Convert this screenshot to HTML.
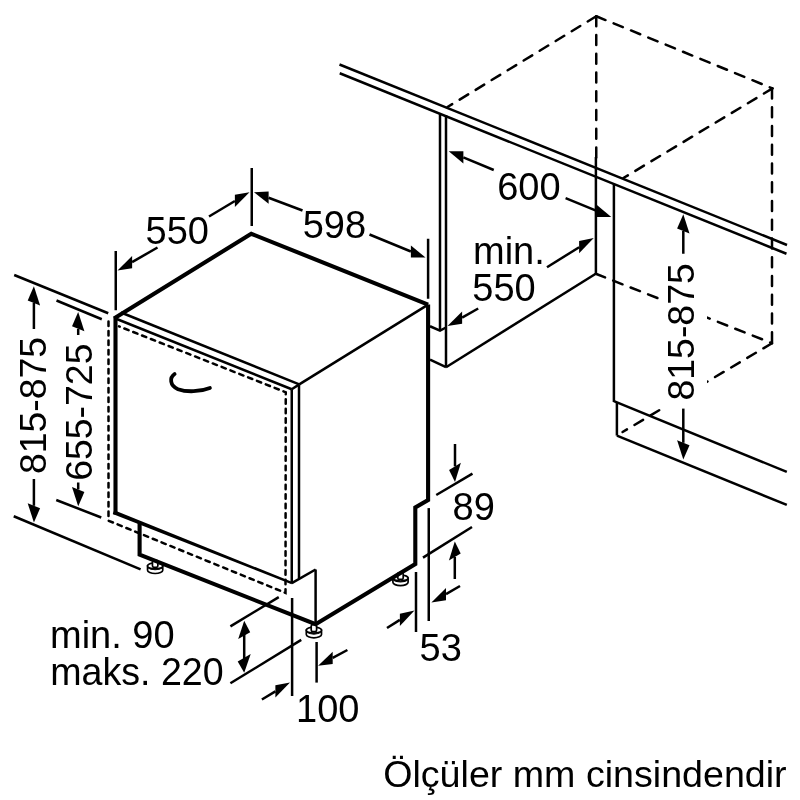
<!DOCTYPE html>
<html><head><meta charset="utf-8"><style>
html,body{margin:0;padding:0;background:#fff;width:800px;height:800px;overflow:hidden}
svg{position:absolute;left:0;top:0;will-change:transform}
text{font-family:"Liberation Sans",sans-serif;font-size:38px;fill:#000;stroke:none}
</style></head><body>
<svg width="800" height="800" viewBox="0 0 800 800" stroke="#000" fill="none" stroke-linecap="butt">
<line x1="339.5" y1="64.5" x2="787" y2="245" stroke-width="2.5"/>
<line x1="339.75" y1="73.25" x2="786.5" y2="253.75" stroke-width="2.5"/>
<g stroke-linecap="round">
<line x1="596.25" y1="16.25" x2="447.5" y2="107" stroke-width="2.5" stroke-dasharray="10 8.75"/>
<line x1="596.25" y1="16.25" x2="596.25" y2="160" stroke-width="2.5" stroke-dasharray="10 8.75"/>
<line x1="596.25" y1="16.25" x2="772.5" y2="88.4" stroke-width="2.5" stroke-dasharray="10 8.75"/>
<line x1="772" y1="88.4" x2="772" y2="343.2" stroke-width="2.5" stroke-dasharray="10 8.75"/>
<line x1="772.5" y1="88.4" x2="623.4" y2="178" stroke-width="2.5" stroke-dasharray="10 8.75"/>
<line x1="595.75" y1="273.75" x2="772" y2="343.2" stroke-width="2.5" stroke-dasharray="10 8.75"/>
<line x1="772" y1="343.2" x2="622.6" y2="432" stroke-width="2.5" stroke-dasharray="10 8.75"/>
</g>
<line x1="440" y1="113.75" x2="440" y2="330.6" stroke-width="2.5"/>
<line x1="446" y1="115" x2="446" y2="367.2" stroke-width="2.5"/>
<polyline points="430,326.25 440,330.6 446,327.5" stroke-width="2.5" fill="none" stroke-linejoin="miter"/>
<line x1="430" y1="359.6" x2="446" y2="367.2" stroke-width="2.5"/>
<line x1="446" y1="367.2" x2="595.75" y2="273.75" stroke-width="2.5"/>
<line x1="595.9" y1="157" x2="595.9" y2="273.75" stroke-width="2.5"/>
<line x1="613.9" y1="183.75" x2="613.9" y2="402" stroke-width="2.5"/>
<line x1="613.9" y1="401.1" x2="786.8" y2="471.9" stroke-width="2.5"/>
<line x1="616.9" y1="403" x2="616.9" y2="435.6" stroke-width="2.5"/>
<line x1="616.9" y1="435.6" x2="786.8" y2="504.9" stroke-width="2.5"/>
<path d="M147.55,565.9 L147.55,570.1999999999999 A7.6,3.3 0 0 0 162.75,570.1999999999999 L162.75,565.9 Z" fill="#fff" stroke-width="1.7"/>
<ellipse cx="155.15" cy="565.9" rx="7.6" ry="3.0" fill="#fff" stroke-width="1.7"/>
<path d="M148.35000000000002,568.1 A7.6,3.0 0 0 0 161.95,568.1" fill="none" stroke-width="1.2"/>
<rect x="152.45000000000002" y="560.4" width="5.4" height="6.9" rx="1.5" fill="#fff" stroke-width="1.7"/>
<path d="M306.29999999999995,630.2 L306.29999999999995,634.5 A7.6,3.3 0 0 0 321.5,634.5 L321.5,630.2 Z" fill="#fff" stroke-width="1.7"/>
<ellipse cx="313.9" cy="630.2" rx="7.6" ry="3.0" fill="#fff" stroke-width="1.7"/>
<path d="M307.09999999999997,632.4000000000001 A7.6,3.0 0 0 0 320.7,632.4000000000001" fill="none" stroke-width="1.2"/>
<rect x="311.2" y="624.7" width="5.4" height="6.9" rx="1.5" fill="#fff" stroke-width="1.7"/>
<path d="M392.9,578 L392.9,582.3 A7.6,3.3 0 0 0 408.1,582.3 L408.1,578 Z" fill="#fff" stroke-width="1.7"/>
<ellipse cx="400.5" cy="578" rx="7.6" ry="3.0" fill="#fff" stroke-width="1.7"/>
<path d="M393.7,580.2 A7.6,3.0 0 0 0 407.3,580.2" fill="none" stroke-width="1.2"/>
<rect x="397.8" y="572.5" width="5.4" height="6.9" rx="1.5" fill="#fff" stroke-width="1.7"/>
<polyline points="114,318.5 251.25,233.75 428.1,304.6" stroke-width="4.1" fill="none" stroke-linejoin="miter"/>
<polyline points="428.1,304.6 428.1,500 415.3,507.5 415.3,564 315.6,624.2 139.6,554.6 139.6,522" stroke-width="4.1" fill="none" stroke-linejoin="miter"/>
<line x1="428.1" y1="304.6" x2="299.25" y2="384.4" stroke-width="2.5"/>
<line x1="115.5" y1="317.5" x2="115.5" y2="514.5" stroke-width="4.1"/>
<polygon points="112.76,514.06 291.58,584.17 292.42,582.03 114.24,510.34" fill="#000" stroke="none"/>
<line x1="121" y1="312.5" x2="299.25" y2="384.4" stroke-width="2.5"/>
<line x1="115.5" y1="318.5" x2="291.75" y2="389.25" stroke-width="2.5"/>
<line x1="291.75" y1="389.25" x2="299.25" y2="384.4" stroke-width="2.5"/>
<line x1="291.75" y1="389.25" x2="291.75" y2="583" stroke-width="2.5"/>
<line x1="299" y1="384.4" x2="299" y2="578.25" stroke-width="2.5"/>
<line x1="291.75" y1="583.1" x2="315.6" y2="569.5" stroke-width="2.5"/>
<line x1="315.6" y1="569.5" x2="315.6" y2="624" stroke-width="2.5"/>
<g stroke-linecap="round">
<polyline points="108.5,321.5 108.5,520.7 285.5,592.9 285.75,392.25 119,326.4" stroke-width="2.5" fill="none" stroke-linejoin="miter" stroke-dasharray="4.5 5"/>
</g>
<path d="M174.6,374 C169.5,377.5 169.5,385.5 178,389.2 C187,392.4 200,391.8 209.9,387.9" fill="none" stroke-width="3.8" stroke-linecap="round"/>
<line x1="251.75" y1="168" x2="251.75" y2="226" stroke-width="2.5"/>
<line x1="115.75" y1="251" x2="115.75" y2="310.25" stroke-width="2.5"/>
<line x1="428.1" y1="238.75" x2="428.1" y2="298.75" stroke-width="2.5"/>
<line x1="14.2" y1="275" x2="108.25" y2="313.25" stroke-width="2.5"/>
<line x1="56.5" y1="300.5" x2="101.8" y2="319.25" stroke-width="2.5"/>
<line x1="13.75" y1="516.25" x2="140.6" y2="569.4" stroke-width="2.5"/>
<line x1="56.25" y1="500" x2="101.25" y2="517.5" stroke-width="2.5"/>
<line x1="436.25" y1="495" x2="472.5" y2="473.7" stroke-width="2.5"/>
<line x1="423" y1="557.6" x2="472" y2="527" stroke-width="2.5"/>
<line x1="428.75" y1="508.1" x2="428.75" y2="621" stroke-width="2.5"/>
<line x1="416" y1="572" x2="416" y2="632" stroke-width="2.5"/>
<line x1="230.4" y1="626.4" x2="278.75" y2="597.1" stroke-width="2.5"/>
<line x1="230.4" y1="683.3" x2="301.25" y2="639.9" stroke-width="2.5"/>
<line x1="292.1" y1="598" x2="292.1" y2="696" stroke-width="2.5"/>
<line x1="316.6" y1="642" x2="316.6" y2="682.6" stroke-width="2.5"/>
<polygon points="117.50,270.50 132.10,256.00 132.10,268.21" fill="#000" stroke="none"/>
<line x1="157.5" y1="247.5" x2="132.1" y2="262.11" stroke-width="2.5"/>
<polygon points="249.50,192.20 234.90,194.86 234.90,207.06" fill="#000" stroke="none"/>
<line x1="209" y1="216.5" x2="234.9" y2="200.96" stroke-width="2.5"/>
<polygon points="254.00,192.20 268.60,191.61 268.60,203.81" fill="#000" stroke="none"/>
<line x1="302.5" y1="210.5" x2="268.6" y2="197.71" stroke-width="2.5"/>
<polygon points="425.50,257.50 410.90,245.40 410.90,257.60" fill="#000" stroke="none"/>
<line x1="369.5" y1="234.5" x2="410.9" y2="251.5" stroke-width="2.5"/>
<polygon points="448.75,151.25 463.35,151.23 463.35,163.43" fill="#000" stroke="none"/>
<line x1="493.75" y1="170" x2="463.35" y2="157.33" stroke-width="2.5"/>
<polygon points="611.25,216.90 596.65,204.79 596.65,216.99" fill="#000" stroke="none"/>
<line x1="565.6" y1="198.1" x2="596.65" y2="210.89" stroke-width="2.5"/>
<polygon points="447.50,326.00 462.10,311.58 462.10,323.78" fill="#000" stroke="none"/>
<line x1="478.2" y1="308.5" x2="462.1" y2="317.68" stroke-width="2.5"/>
<polygon points="593.75,238.10 579.15,241.10 579.15,253.30" fill="#000" stroke="none"/>
<line x1="547" y1="267.25" x2="579.15" y2="247.2" stroke-width="2.5"/>
<polygon points="683.30,214.20 677.10,228.42 689.50,233.38" fill="#000" stroke="none"/>
<line x1="683.3" y1="253.75" x2="683.3" y2="230.9" stroke-width="2.5"/>
<polygon points="683.30,459.50 677.10,440.32 689.50,445.28" fill="#000" stroke="none"/>
<line x1="683.3" y1="408.6" x2="683.3" y2="442.8" stroke-width="2.5"/>
<polygon points="33.90,286.20 27.70,300.42 40.10,305.38" fill="#000" stroke="none"/>
<line x1="33.9" y1="329" x2="33.9" y2="302.9" stroke-width="2.5"/>
<polygon points="33.90,522.50 27.70,503.32 40.10,508.28" fill="#000" stroke="none"/>
<line x1="33.9" y1="479" x2="33.9" y2="505.8" stroke-width="2.5"/>
<polygon points="78.20,312.10 72.00,326.32 84.40,331.28" fill="#000" stroke="none"/>
<line x1="78.2" y1="335" x2="78.2" y2="328.8" stroke-width="2.5"/>
<polygon points="78.20,506.25 72.00,487.07 84.40,492.03" fill="#000" stroke="none"/>
<line x1="78.2" y1="482.5" x2="78.2" y2="489.55" stroke-width="2.5"/>
<polygon points="455.00,481.90 449.10,469.94 460.90,462.86" fill="#000" stroke="none"/>
<line x1="455" y1="444" x2="455" y2="466.4" stroke-width="2.5"/>
<polygon points="454.80,541.50 448.90,560.54 460.70,553.46" fill="#000" stroke="none"/>
<line x1="454.8" y1="579" x2="454.8" y2="557.0" stroke-width="2.5"/>
<polygon points="431.40,602.50 446.00,587.98 446.00,600.18" fill="#000" stroke="none"/>
<line x1="460" y1="586" x2="446.0" y2="594.08" stroke-width="2.5"/>
<polygon points="414.50,610.60 399.90,613.74 399.90,625.94" fill="#000" stroke="none"/>
<line x1="387" y1="628" x2="399.9" y2="619.84" stroke-width="2.5"/>
<line x1="244.2" y1="634" x2="244.2" y2="660" stroke-width="2.5"/>
<polygon points="244.20,620.70 238.20,639.12 250.20,632.28" fill="#000" stroke="none"/>
<polygon points="244.20,672.70 237.70,661.41 250.70,654.00" fill="#000" stroke="none"/>
<polygon points="318.10,665.75 332.70,651.80 332.70,664.00" fill="#000" stroke="none"/>
<line x1="347.4" y1="650" x2="332.7" y2="657.9" stroke-width="2.5"/>
<polygon points="290.00,682.60 275.40,685.28 275.40,697.48" fill="#000" stroke="none"/>
<line x1="261.9" y1="699.5" x2="275.4" y2="691.38" stroke-width="2.5"/>
<text x="145.5" y="243.5">550</text>
<text x="302.7" y="238">598</text>
<text x="497.2" y="199.5">600</text>
<text x="473" y="263.5">min.</text>
<text x="472.3" y="300.5">550</text>
<rect x="662" y="258" width="45" height="149" fill="#fff" stroke="none"/>
<text transform="translate(694.4,400.5) rotate(-90)" x="0" y="0" style="font-size:37.4px">815-875</text>
<text transform="translate(46.1,474.1) rotate(-90)" x="0" y="0" style="font-size:37.4px">815-875</text>
<text transform="translate(92,480.8) rotate(-90)" x="0" y="0" style="font-size:37.4px">655-725</text>
<text x="452.5" y="519.6">89</text>
<text x="419.5" y="660.8">53</text>
<text x="50" y="647.7">min. 90</text>
<text transform="translate(50.2,685) scale(0.99,1)" x="0" y="0">maks. 220</text>
<text x="296" y="722">100</text>
<text transform="translate(383.2,786.6) scale(0.99,0.96)" x="0" y="0">Ölçüler mm cinsindendir</text>
</svg>
</body></html>
